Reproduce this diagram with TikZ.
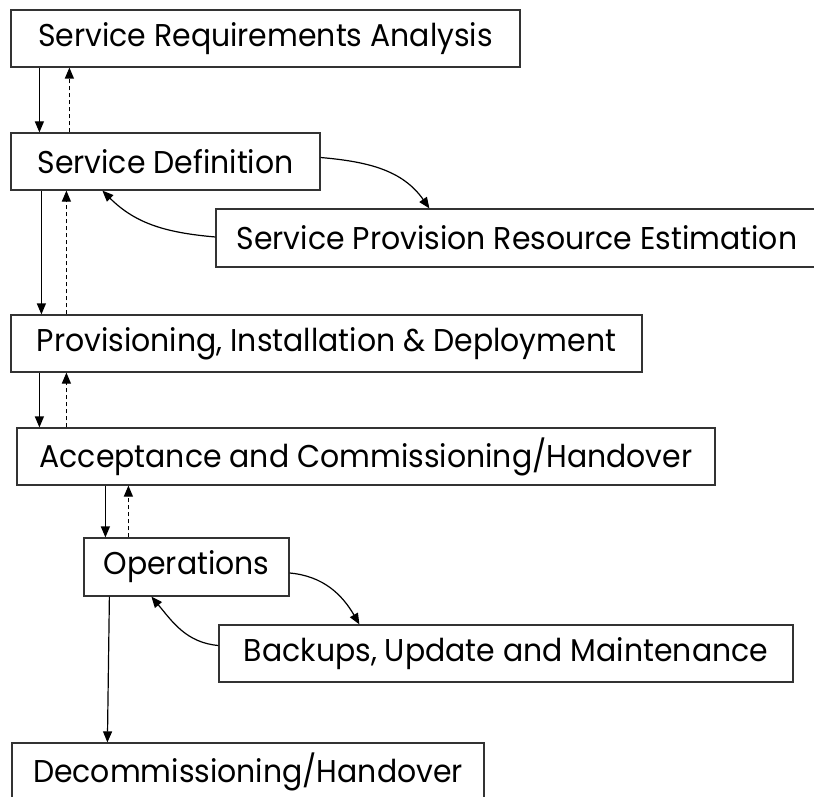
\documentclass[tikz,border=0pt]{standalone}
\usepackage{fontspec}
\setmainfont{Poppins}[FakeStretch=0.95]
\usetikzlibrary{arrows.meta}
\begin{document}
\begin{tikzpicture}[x=1pt,y=1pt,
  box/.style={draw=black!80,line width=1.2pt,inner sep=0pt,
    minimum height=57pt,font=\fontsize{31.5}{33}\selectfont,text=black},
  link/.style={line width=1.2pt,-{Triangle[length=11pt,width=9pt]}},
  back/.style={link,dash pattern=on 4pt off 3pt}]
\useasboundingbox (0,0) rectangle (814,-797);
\node[box,minimum width=509pt] (sra) at (265.5,-38.5) {Service Requirements Analysis};
\node[box,minimum width=309pt] (sd) at (165.5,-161.5) {Service Definition};
\node[box,minimum width=602pt,minimum height=58pt] (spre) at (517,-238) {Service Provision Resource Estimation};
\node[box,minimum width=631pt] (pid) at (326.5,-343.5) {Provisioning, Installation \& Deployment};
\node[box,minimum width=698pt] (ach) at (366,-456.5) {Acceptance and Commissioning/Handover};
\node[box,minimum width=205pt,minimum height=58pt] (ops) at (186.5,-567) {Operations};
\node[box,minimum width=574pt] (bum) at (506,-653.5) {Backups, Update and Maintenance};
\node[box,minimum width=472pt] (dh) at (248,-771.5) {Decommissioning/Handover};

\draw[link] ([xshift=29pt]sra.south west) -- ([xshift=29pt]sd.north west);
\draw[back] ([xshift=59pt]sd.north west) -- ([xshift=59pt]sra.south west);
\draw[link] ([xshift=31pt]sd.south west) -- ([xshift=31pt]pid.north west);
\draw[back] ([xshift=56pt]pid.north west) -- ([xshift=56pt]sd.south west);
\draw[link] ([xshift=29pt]pid.south west) -- ([xshift=23pt]ach.north west);
\draw[back] ([xshift=50pt]ach.north west) -- ([xshift=56pt]pid.south west);
\draw[link] ([xshift=89pt]ach.south west) -- ([xshift=22pt]ops.north west);
\draw[back] ([xshift=45pt]ops.north west) -- ([xshift=112pt]ach.south west);
\draw[link] ([xshift=26pt]ops.south west) -- ([xshift=96pt]dh.north west);

\draw[link] ([yshift=4pt]sd.east) to[out=-5,in=125] ([xshift=214pt]spre.north west);
\draw[link] ([yshift=1pt]spre.west) to[out=175,in=-45] ([xshift=92pt]sd.south west);
\draw[link] ([yshift=-6pt]ops.east) to[out=-5,in=120] ([xshift=141pt]bum.north west);
\draw[link] ([yshift=8pt]bum.west) to[out=175,in=-50] ([xshift=68pt]ops.south west);
\end{tikzpicture}
\end{document}
